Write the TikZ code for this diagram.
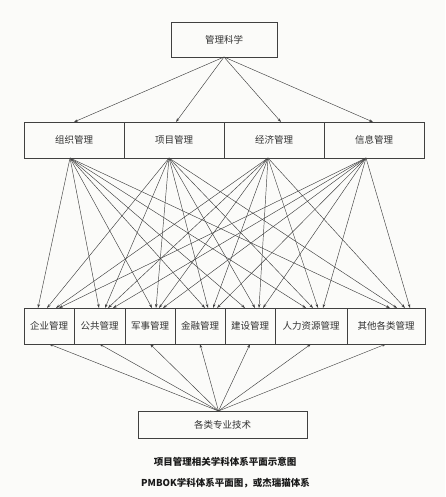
\documentclass[tikz,border=0pt]{standalone}
\usepackage{fontspec}
\usepackage{tikz}
\usetikzlibrary{arrows.meta}
\newfontfamily\cjk{Noto Sans CJK SC}
\definecolor{paper}{RGB}{251,251,249}

\begin{document}
\begin{tikzpicture}[x=1pt, y=-1pt,
  every node/.style={draw=black!75, line width=0.7pt, text=black!80, inner sep=0pt, outer sep=0pt,
    minimum height=36pt, font=\cjk\fontsize{9.5}{11}\selectfont},
  link/.style={black!75, line width=0.45pt, -{Stealth[length=4pt,width=2.6pt]}},
  caption/.style={draw=none, minimum height=0pt, text=black!90, font=\cjk\bfseries\fontsize{9.5}{11}\selectfont}]
\fill[paper] (0,0) rectangle (445,497);
\useasboundingbox (0,0) rectangle (445,497);

\node[minimum width=106, minimum height=35] (sci) at (224,39.5) {管理科学};

\node[minimum width=100] (org) at (74,140) {组织管理};
\node[minimum width=100] (proj) at (174,140) {项目管理};
\node[minimum width=100] (econ) at (274,140) {经济管理};
\node[minimum width=100] (info) at (374,140) {信息管理};

\node[minimum width=50] (ent) at (49,326) {企业管理};
\node[minimum width=51] (pub) at (99.5,326) {公共管理};
\node[minimum width=50] (mil) at (150,326) {军事管理};
\node[minimum width=50] (fin) at (200,326) {金融管理};
\node[minimum width=50] (con) at (250,326) {建设管理};
\node[minimum width=72] (hr) at (311,326) {人力资源管理};
\node[minimum width=78] (oth) at (386,326) {其他各类管理};

\node[minimum width=169, minimum height=27] (tech) at (222.5,424.5) {各类专业技术};

\node[caption] (cap1) at (225,462) {项目管理相关学科体系平面示意图};
\node[caption] (cap2) at (225.5,483) {PMBOK学科体系平面图，或杰瑞猫体系};

\coordinate (s1) at (70,158);
\coordinate (s2) at (169,158);
\coordinate (s3) at (268,158);
\coordinate (s4) at (366,158);

% top level
\draw[link] (sci.south) -- (org.north);
\draw[link] (sci.south) -- ([xshift=2]proj.north);
\draw[link] (sci.south) -- ([xshift=7]econ.north);
\draw[link] (sci.south) -- ([xshift=-1]info.north);

% from 组织管理
\draw[link] (s1) -- ([xshift=-11]ent.north);
\draw[link] (s1) -- ([xshift=-0.5]pub.north);
\draw[link] (s1) -- ([xshift=2]mil.north);
\draw[link] (s1) -- ([xshift=5]fin.north);
\draw[link] (s1) -- ([xshift=-5]con.north);
\draw[link] (s1) -- ([xshift=-5]hr.north);
\draw[link] (s1) -- ([xshift=4]oth.north);

% from 项目管理
\draw[link] (s2) -- ([xshift=-2]ent.north);
\draw[link] (s2) -- ([xshift=5.5]pub.north);
\draw[link] (s2) -- ([xshift=6]mil.north);
\draw[link] (s2) -- ([xshift=8]fin.north);
\draw[link] (s2) -- ([xshift=5]con.north);
\draw[link] (s2) -- ([xshift=2]hr.north);
\draw[link] (s2) -- ([xshift=11]oth.north);

% from 经济管理
\draw[link] (s3) -- ([xshift=7]ent.north);
\draw[link] (s3) -- ([xshift=8.5]pub.north);
\draw[link] (s3) -- ([xshift=9]mil.north);
\draw[link] (s3) -- ([xshift=13]fin.north);
\draw[link] (s3) -- ([xshift=9]con.north);
\draw[link] (s3) -- ([xshift=7]hr.north);
\draw[link] (s3) -- ([xshift=19]oth.north);

% from 信息管理
\draw[link] (s4) -- ([xshift=10]ent.north);
\draw[link] (s4) -- ([xshift=13.5]pub.north);
\draw[link] (s4) -- ([xshift=13]mil.north);
\draw[link] (s4) -- ([xshift=17]fin.north);
\draw[link] (s4) -- ([xshift=13]con.north);
\draw[link] (s4) -- ([xshift=12]hr.north);
\draw[link] (s4) -- ([xshift=24]oth.north);

% bottom level
\draw[link] ([xshift=-4]tech.north) -- (ent.south);
\draw[link] ([xshift=-4]tech.north) -- (pub.south);
\draw[link] ([xshift=-4]tech.north) -- (mil.south);
\draw[link] ([xshift=-4]tech.north) -- (fin.south);
\draw[link] ([xshift=-4]tech.north) -- (con.south);
\draw[link] ([xshift=-4]tech.north) -- (hr.south);
\draw[link] ([xshift=-4]tech.north) -- (oth.south);
\end{tikzpicture}
\end{document}
